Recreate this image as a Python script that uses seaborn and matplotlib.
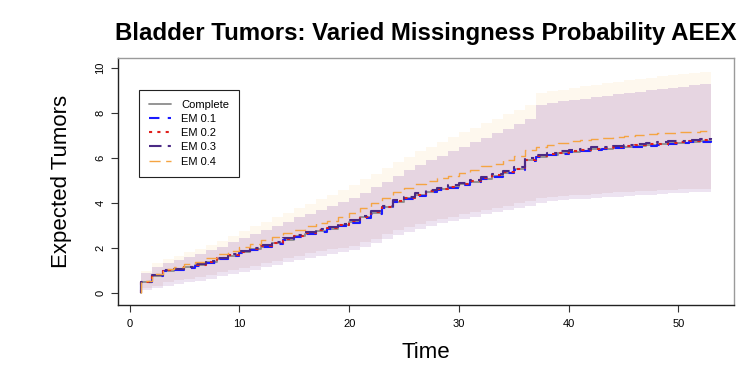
import numpy as np
import pandas as pd
import seaborn as sns
import matplotlib
matplotlib.use('Agg')
import matplotlib.pyplot as plt

# time grid (first point doubled so the step starts from zero)
times = [1] + list(range(1, 54))

complete = [0.0, 0.45, 0.75, 0.98, 1.03, 1.12, 1.22, 1.35, 1.5, 1.65, 1.8, 1.92, 2.05, 2.2, 2.35, 2.5,
            2.62, 2.75, 2.85, 3.0, 3.15, 3.35, 3.55, 3.8, 4.05, 4.2, 4.35, 4.5, 4.6, 4.7, 4.82, 4.95,
            5.08, 5.2, 5.35, 5.5, 5.9, 6.05, 6.15, 6.22, 6.28, 6.33, 6.38, 6.42, 6.46, 6.5, 6.54, 6.58,
            6.62, 6.65, 6.68, 6.72, 6.76, 6.8]
em01 = [0.0, 0.45, 0.74, 0.97, 1.02, 1.1, 1.2, 1.33, 1.48, 1.63, 1.78, 1.9, 2.03, 2.18, 2.33, 2.48,
        2.6, 2.72, 2.83, 2.97, 3.12, 3.32, 3.52, 3.77, 4.02, 4.17, 4.32, 4.47, 4.57, 4.67, 4.79, 4.92,
        5.05, 5.17, 5.32, 5.47, 5.87, 6.02, 6.12, 6.19, 6.25, 6.3, 6.35, 6.39, 6.43, 6.47, 6.51, 6.55,
        6.59, 6.62, 6.65, 6.69, 6.73, 6.77]
em02 = [0.0, 0.46, 0.76, 0.99, 1.05, 1.14, 1.24, 1.37, 1.52, 1.67, 1.82, 1.94, 2.07, 2.22, 2.37, 2.52,
        2.64, 2.77, 2.87, 3.02, 3.17, 3.37, 3.57, 3.82, 4.07, 4.22, 4.37, 4.52, 4.62, 4.72, 4.84, 4.97,
        5.1, 5.22, 5.37, 5.52, 5.92, 6.07, 6.17, 6.24, 6.3, 6.35, 6.4, 6.44, 6.48, 6.52, 6.56, 6.6,
        6.64, 6.67, 6.7, 6.74, 6.78, 6.82]
em03 = [0.0, 0.47, 0.78, 1.01, 1.07, 1.16, 1.27, 1.4, 1.55, 1.7, 1.86, 1.98, 2.11, 2.27, 2.42, 2.57,
        2.69, 2.82, 2.92, 3.07, 3.22, 3.43, 3.63, 3.88, 4.13, 4.28, 4.43, 4.58, 4.68, 4.78, 4.9, 5.03,
        5.16, 5.28, 5.43, 5.58, 5.98, 6.13, 6.23, 6.3, 6.36, 6.42, 6.47, 6.51, 6.55, 6.59, 6.63, 6.67,
        6.71, 6.74, 6.77, 6.81, 6.85, 6.89]
em04 = [0.0, 0.5, 0.82, 1.07, 1.15, 1.26, 1.38, 1.53, 1.7, 1.87, 2.03, 2.17, 2.32, 2.49, 2.65, 2.81,
        2.95, 3.09, 3.21, 3.37, 3.54, 3.76, 3.97, 4.23, 4.49, 4.66, 4.82, 4.98, 5.1, 5.21, 5.34, 5.48,
        5.62, 5.75, 5.91, 6.07, 6.34, 6.48, 6.59, 6.67, 6.74, 6.8, 6.86, 6.9, 6.95, 6.99, 7.03, 7.07,
        7.1, 7.12, 7.14, 7.16, 7.18, 7.2]

# confidence bands
hi_core = [0.85, 0.85, 1.15, 1.3, 1.45, 1.6, 1.72, 1.88, 2.05, 2.25, 2.45, 2.62, 2.8, 2.98, 3.15, 3.35,
           3.52, 3.7, 3.88, 4.05, 4.22, 4.45, 4.7, 4.95, 5.2, 5.45, 5.7, 5.9, 6.1, 6.3, 6.5, 6.7,
           6.9, 7.1, 7.3, 7.5, 7.75, 8.35, 8.45, 8.52, 8.58, 8.65, 8.72, 8.78, 8.84, 8.9, 8.96, 9.02,
           9.08, 9.13, 9.18, 9.23, 9.28, 9.33]
hi_em04 = [0.95, 0.95, 1.3, 1.5, 1.65, 1.8, 1.95, 2.12, 2.3, 2.52, 2.75, 2.95, 3.15, 3.35, 3.55, 3.75,
           3.95, 4.15, 4.35, 4.55, 4.8, 5.05, 5.3, 5.55, 5.8, 6.05, 6.3, 6.5, 6.72, 6.95, 7.15, 7.35,
           7.55, 7.75, 7.95, 8.15, 8.35, 8.9, 9.0, 9.05, 9.12, 9.2, 9.27, 9.33, 9.4, 9.46, 9.52, 9.58,
           9.64, 9.69, 9.74, 9.78, 9.83, 9.87]
lo_core = [0.2, 0.2, 0.3, 0.45, 0.55, 0.62, 0.68, 0.78, 0.9, 1.0, 1.1, 1.2, 1.3, 1.42, 1.55, 1.65,
           1.75, 1.85, 1.92, 2.0, 2.08, 2.25, 2.4, 2.6, 2.78, 2.92, 3.05, 3.18, 3.28, 3.38, 3.48, 3.58,
           3.68, 3.78, 3.88, 3.98, 4.08, 4.2, 4.25, 4.3, 4.33, 4.37, 4.4, 4.43, 4.46, 4.49, 4.52, 4.54,
           4.56, 4.58, 4.6, 4.62, 4.63, 4.65]
lo_em01 = [0.1, 0.1, 0.18, 0.3, 0.4, 0.47, 0.53, 0.62, 0.73, 0.83, 0.93, 1.02, 1.12, 1.23, 1.35, 1.45,
           1.55, 1.65, 1.72, 1.8, 1.88, 2.05, 2.2, 2.4, 2.58, 2.72, 2.85, 2.98, 3.08, 3.18, 3.28, 3.38,
           3.48, 3.58, 3.68, 3.78, 3.88, 4.0, 4.06, 4.11, 4.15, 4.19, 4.22, 4.25, 4.28, 4.31, 4.34, 4.37,
           4.4, 4.42, 4.44, 4.46, 4.48, 4.5]

labels = ['Complete', 'EM 0.1', 'EM 0.2', 'EM 0.3', 'EM 0.4']
series = [complete, em01, em02, em03, em04]
colors = ['#8c8c8c', '#1a1aff', '#e0201c', '#4b2a85', '#f5a442']
styles = ['-', (0, (5, 4)), (0, (1.5, 2.5)), (0, (6, 3, 1.5, 3)), (0, (8, 4))]
widths = [1.3, 1.5, 1.5, 1.5, 1.0]

sns.set_style('white')
plt.rcParams['font.family'] = ['Liberation Sans', 'DejaVu Sans']
plt.rcParams['text.color'] = 'black'
plt.rcParams['axes.labelcolor'] = 'black'
plt.rcParams['xtick.color'] = 'black'
plt.rcParams['ytick.color'] = 'black'

fig = plt.figure(figsize=(7.5, 3.75), dpi=100)
ax = fig.add_axes([0.157, 0.187, 0.822, 0.658])

ax.fill_between(times, hi_core, hi_em04, step='post', color='#fef8ee', lw=0)
ax.fill_between(times, lo_em01, lo_core, step='post', color='#ede3f1', lw=0)
ax.fill_between(times, lo_core, hi_core, step='post', color='#e6d5e1', lw=0)

for lab, vals, c, ls, lw in zip(labels, series, colors, styles, widths):
    df = pd.DataFrame({'Time': times, 'value': vals})
    sns.lineplot(data=df, x='Time', y='value', ax=ax, color=c, linestyle=ls, lw=lw,
                 drawstyle='steps-post', label=lab, sort=False, estimator=None)

ax.set_xlim(-1.08, 55.08)
ax.set_ylim(-0.55, 10.45)
ax.set_xticks(range(0, 51, 10))
ax.set_yticks(range(0, 11, 2))
ax.tick_params(axis='both', bottom=True, left=True, direction='out', length=5, width=0.8,
               labelsize=8, color='#333333')
ax.tick_params(axis='x', pad=5)
ax.tick_params(axis='y', pad=4)
for t in ax.get_yticklabels():
    t.set_rotation(90)
    t.set_va('center')

for s in ['left', 'bottom']:
    ax.spines[s].set_color('#222222')
    ax.spines[s].set_linewidth(1.0)
for s in ['top', 'right']:
    ax.spines[s].set_color('#9a9a9a')
    ax.spines[s].set_linewidth(1.0)

ax.set_xlabel('Time', fontsize=16)
ax.set_ylabel('Expected Tumors', fontsize=16)
ax.xaxis.set_label_coords(0.5, -0.15)
ax.yaxis.set_label_coords(-0.074, 0.5)
ax.set_title('Bladder Tumors: Varied Missingness Probability AEEX', fontsize=17.3,
             fontweight='bold', y=1.04)

leg = ax.legend(loc='upper left', bbox_to_anchor=(0.034, 0.872), fontsize=8, frameon=True,
                fancybox=False, framealpha=1, edgecolor='#222222', handlelength=2.0,
                labelspacing=0.38, borderpad=0.9, handletextpad=0.9, borderaxespad=0)
leg.get_frame().set_linewidth(0.8)

fig.savefig('out.png', dpi=100)
